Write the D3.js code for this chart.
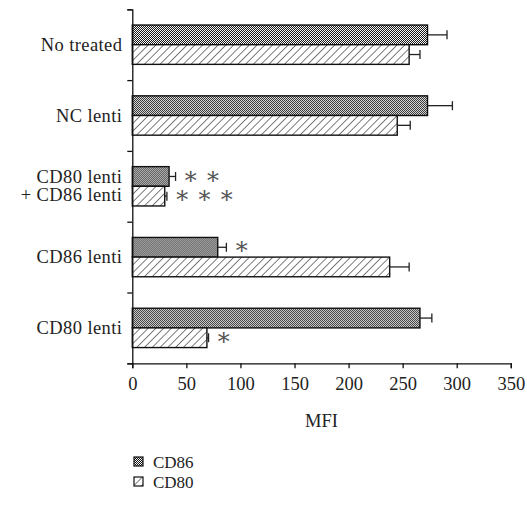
<!DOCTYPE html>
<html>
<head>
<meta charset="utf-8">
<script src="https://cdn.jsdelivr.net/npm/d3@7"></script>
<style>
  html, body { margin: 0; padding: 0; background: #fff; }
  svg { display: block; }
  text { font-family: "Liberation Serif", "DejaVu Serif", serif; fill: #222; }
</style>
</head>
<body>
<svg id="chart" width="527" height="506"></svg>
<script>
// Groups, top to bottom
const groups = ["No treated", "NC lenti", "CD80 lenti\n+ CD86 lenti", "CD86 lenti", "CD80 lenti"];
const seriesNames = ["CD86", "CD80"];
// Mean fluorescence intensity per group
const cd86Values = [273, 273, 34, 79, 266];
const cd80Values = [256, 245, 30, 238, 69];
// Error (upper whisker length)
const cd86Errors = [18, 23, 6, 8, 11];
const cd80Errors = [10, 12, 2, 18, 1.5];
// Number of significance stars
const cd86Stars = [0, 0, 2, 1, 0];
const cd80Stars = [0, 0, 3, 0, 1];
const xTicks = [0, 50, 100, 150, 200, 250, 300, 350];

const svg = d3.select("#chart");
const plotLeft = 132.3, plotRight = 510.8, plotTop = 9.3, plotBottom = 363.3;

const x = d3.scaleLinear().domain([0, 350]).range([plotLeft, plotRight]);
const y = d3.scaleBand().domain(groups).range([plotTop, plotBottom]).padding(0);
const yInner = d3.scaleBand().domain(seriesNames).range([0, y.bandwidth()])
  .paddingInner(0).paddingOuter(0.8);

// Fill patterns
const defs = svg.append("defs");
const checker = defs.append("pattern").attr("id", "checker")
  .attr("patternUnits", "userSpaceOnUse").attr("width", 2).attr("height", 2);
checker.append("rect").attr("width", 2).attr("height", 2).attr("fill", "#fff");
checker.append("rect").attr("width", 1).attr("height", 1).attr("fill", "#111");
checker.append("rect").attr("x", 1).attr("y", 1).attr("width", 1).attr("height", 1).attr("fill", "#111");

const hatch = defs.append("pattern").attr("id", "hatch")
  .attr("patternUnits", "userSpaceOnUse").attr("width", 5.5).attr("height", 5.5)
  .attr("patternTransform", "rotate(45)");
hatch.append("rect").attr("width", 5.5).attr("height", 5.5).attr("fill", "#fff");
hatch.append("line").attr("x1", 0).attr("y1", 0).attr("x2", 0).attr("y2", 5.5)
  .attr("stroke", "#111").attr("stroke-width", 1.1);

const fills = { CD86: "url(#checker)", CD80: "url(#hatch)" };

const rows = [];
groups.forEach((g, i) => {
  rows.push({ group: g, series: "CD86", value: cd86Values[i], err: cd86Errors[i], stars: cd86Stars[i] });
  rows.push({ group: g, series: "CD80", value: cd80Values[i], err: cd80Errors[i], stars: cd80Stars[i] });
});

const barG = svg.append("g");
const bar = barG.selectAll("g.bar").data(rows).join("g")
  .attr("transform", d => `translate(0,${y(d.group) + yInner(d.series)})`);

bar.append("rect")
  .attr("x", x(0))
  .attr("y", 0)
  .attr("width", d => x(d.value) - x(0))
  .attr("height", yInner.bandwidth())
  .attr("fill", d => fills[d.series])
  .attr("stroke", "#111")
  .attr("stroke-width", 1.4);

// Error whiskers
const h = yInner.bandwidth();
bar.append("line")
  .attr("x1", d => x(d.value)).attr("x2", d => x(d.value + d.err))
  .attr("y1", h / 2).attr("y2", h / 2)
  .attr("stroke", "#222").attr("stroke-width", 1.3);
bar.append("line")
  .attr("x1", d => x(d.value + d.err)).attr("x2", d => x(d.value + d.err))
  .attr("y1", h / 2 - 4.5).attr("y2", h / 2 + 4.5)
  .attr("stroke", "#222").attr("stroke-width", 1.3);

// Significance stars after each whisker
const starSize = 24;
bar.filter(d => d.stars > 0).append("text")
  .attr("x", d => x(d.value + d.err) + 7)
  .attr("y", h / 2 + starSize * 0.3)
  .attr("font-size", starSize)
  .attr("font-family", "DejaVu Sans, sans-serif")
  .style("fill", "#555")
  .text(d => d3.range(d.stars).map(() => "∗").join(" "));

// X axis
const xAxis = svg.append("g").attr("transform", `translate(0,${plotBottom})`)
  .call(d3.axisBottom(x).tickValues(xTicks).tickSize(5).tickPadding(9).tickFormat(d3.format("d")));
xAxis.select(".domain").attr("stroke", "#111").attr("stroke-width", 1.3);
xAxis.selectAll(".tick line").attr("stroke", "#111").attr("stroke-width", 1.3);
xAxis.selectAll(".tick text").attr("font-size", 18.5)
  .attr("font-family", "Liberation Serif, serif").attr("fill", "#222");

svg.append("text").attr("x", (plotLeft + plotRight) / 2).attr("y", 427)
  .attr("text-anchor", "middle").attr("font-size", 18.5).text("MFI");

// Y axis with ticks at group boundaries
const yIdx = d3.scaleLinear().domain([0, groups.length]).range([plotTop, plotBottom]);
const yAxis = svg.append("g").attr("transform", `translate(${plotLeft},0)`)
  .call(d3.axisLeft(yIdx).tickValues(d3.range(groups.length + 1)).tickSize(5).tickFormat(""));
yAxis.select(".domain").attr("stroke", "#111").attr("stroke-width", 1.3);
yAxis.selectAll(".tick line").attr("stroke", "#111").attr("stroke-width", 1.3);

// Group labels
const labels = svg.append("g").selectAll("text").data(groups).join("text")
  .attr("x", plotLeft - 10)
  .attr("text-anchor", "end")
  .attr("font-size", 18.5)
  .attr("letter-spacing", 0.4)
  .attr("y", d => y(d) + y.bandwidth() / 2);
labels.each(function(d) {
  const lines = d.split("\n");
  const t = d3.select(this);
  const lh = 18;
  lines.forEach((ln, k) => {
    t.append("tspan").attr("x", plotLeft - 10)
      .attr("dy", k === 0 ? (6 - (lines.length - 1) * lh / 2) : lh)
      .text(ln);
  });
});

// Legend
const legend = svg.append("g").attr("transform", "translate(134,457)");
seriesNames.forEach((s, i) => {
  const g = legend.append("g").attr("transform", `translate(0,${i * 20})`);
  g.append("rect").attr("width", 9).attr("height", 9)
    .attr("fill", fills[s]).attr("stroke", "#111").attr("stroke-width", 1.2);
  g.append("text").attr("x", 19).attr("y", 10.5).attr("font-size", 17).text(s);
});
</script>
</body>
</html>
